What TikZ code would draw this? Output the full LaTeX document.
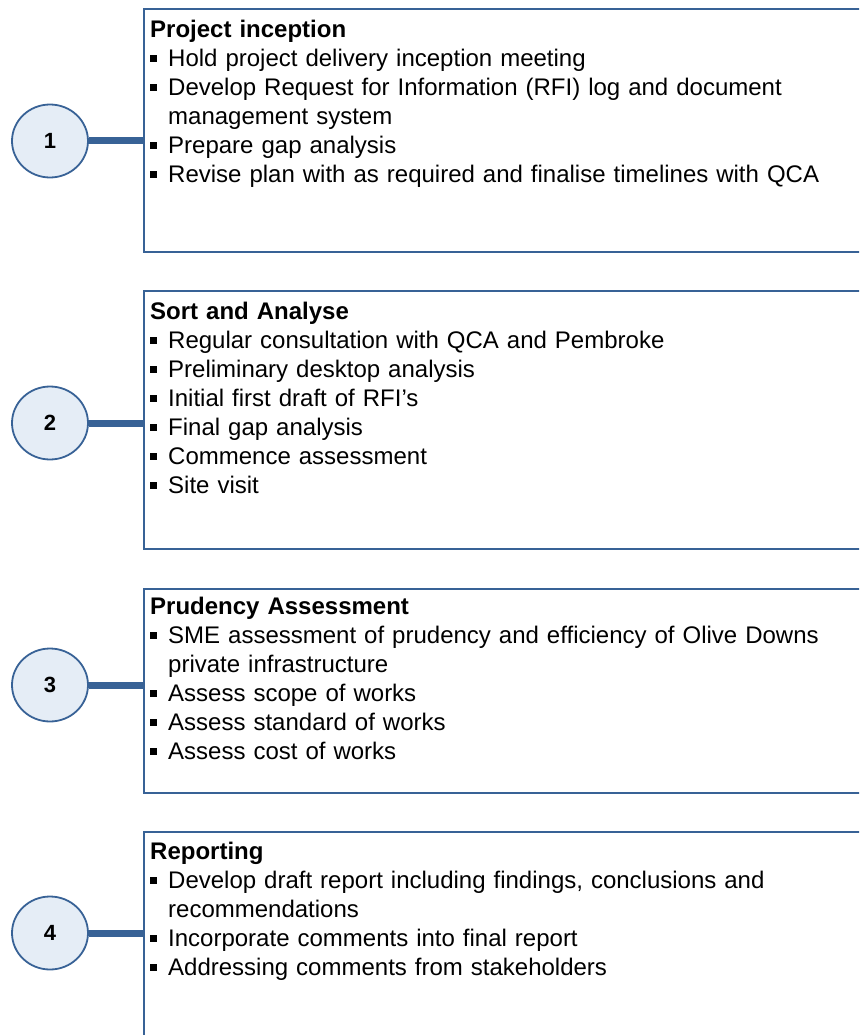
\documentclass[tikz,border=0pt]{standalone}
\usepackage{fontspec}
\setmainfont{Liberation Sans}
\usetikzlibrary{shapes.geometric}

\definecolor{stageblue}{RGB}{56,98,150}
\definecolor{stagefill}{RGB}{229,237,246}

\newcommand{\stepitem}[1]{\par\noindent\hangindent=18pt\hangafter=1%
  \makebox[18pt][l]{\rule[5pt]{6.5pt}{6.5pt}}#1}

\tikzset{
  stagebox/.style={draw=stageblue, line width=2.2pt, anchor=north west,
    minimum width=740pt, inner sep=0pt},
  stagetext/.style={anchor=north west, inner sep=0pt, text width=700pt,
    font=\fontsize{24}{29}\selectfont},
  stagenum/.style={ellipse, draw=stageblue, fill=stagefill, line width=1.8pt,
    minimum width=76pt, minimum height=73pt, inner sep=0pt,
    font=\fontsize{22}{22}\selectfont\bfseries},
  stagelink/.style={draw=stageblue, line width=7pt}
}

\begin{document}
\begin{tikzpicture}[x=1pt, y=-1pt]
    \useasboundingbox (0,0) rectangle (859,1035);
    \clip (0,0) rectangle (859,1035);
    \def\boxleft{143}

    % boxes
    \node[stagebox, minimum height=243pt] (box1) at (\boxleft,8) {};
    \node[stagebox, minimum height=258pt] (box2) at (\boxleft,290) {};
    \node[stagebox, minimum height=204pt] (box3) at (\boxleft,588) {};
    \node[stagebox, minimum height=260pt] (box4) at (\boxleft,831) {};

    % texts
    \node[stagetext] (text1) at (150,20) {{\bfseries Project inception}
      \stepitem{Hold project delivery inception meeting}
      \stepitem{Develop Request for Information (RFI) log and document\newline management system}
      \stepitem{Prepare gap analysis}
      \stepitem{Revise plan with as required and finalise timelines with QCA}};
    \node[stagetext] (text2) at (150,302) {{\bfseries Sort and Analyse}
      \stepitem{Regular consultation with QCA and Pembroke}
      \stepitem{Preliminary desktop analysis}
      \stepitem{Initial first draft of RFI’s}
      \stepitem{Final gap analysis}
      \stepitem{Commence assessment}
      \stepitem{Site visit}};
    \node[stagetext] (text3) at (150,597) {{\bfseries Prudency Assessment}
      \stepitem{SME assessment of prudency and efficiency of Olive Downs\newline private infrastructure}
      \stepitem{Assess scope of works}
      \stepitem{Assess standard of works}
      \stepitem{Assess cost of works}};
    \node[stagetext] (text4) at (150,842) {{\bfseries Reporting}
      \stepitem{Develop draft report including findings, conclusions and\newline recommendations}
      \stepitem{Incorporate comments into final report}
      \stepitem{Addressing comments from stakeholders}};

    % numbers
    \node[stagenum] (num1) at (50,141) {1};
    \node[stagenum] (num2) at (50,423) {2};
    \node[stagenum] (num3) at (50,685) {3};
    \node[stagenum] (num4) at (50,933) {4};

    \foreach \i in {1,...,4}
      \draw[stagelink] (num\i.east) -- (num\i.east -| box\i.west);
\end{tikzpicture}
\end{document}
